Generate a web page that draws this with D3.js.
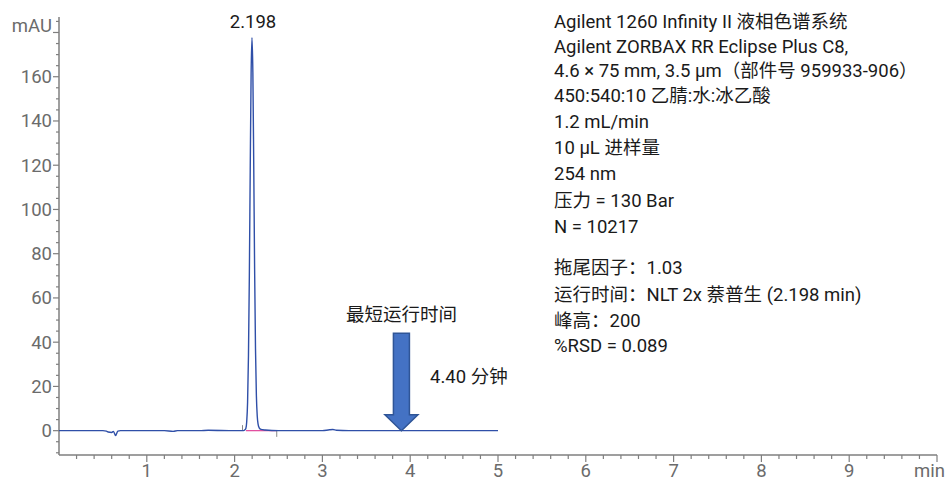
<!DOCTYPE html>
<html>
<head>
<meta charset="utf-8">
<script src="https://cdn.jsdelivr.net/npm/d3@7"></script>
<style>
  body { margin: 0; background: #fff; }
  text { font-family: Roboto, "Noto Sans CJK SC", sans-serif; }
</style>
</head>
<body>
<div id="chart"></div>
<script>
// chromatogram trace (min, mAU)
var times = [0, 0.5, 0.54, 0.56, 0.6, 0.62, 0.645, 0.67, 0.7, 1.2, 1.3, 1.35, 1.6, 1.7, 2.0, 2.1,
  2.118, 2.128, 2.138, 2.148, 2.158, 2.168, 2.178, 2.188, 2.198, 2.208, 2.218, 2.228, 2.238, 2.248,
  2.258, 2.268, 2.28, 2.3, 2.35, 2.5, 3.0, 3.08, 3.12, 3.16, 3.3, 5.0];
var mAU = [0, 0, -0.2, -0.6, -0.8, -0.3, -2.2, -0.2, 0, 0, -0.3, 0, 0, 0.2, 0, 0,
  0.4, 1, 4, 13, 34, 70, 118, 161, 177.6, 162, 120, 73, 37, 16,
  6.5, 2.8, 1.3, 0.6, 0.3, 0, 0, 0.4, 0.5, 0.2, 0, 0];

var xTicks = [1, 2, 3, 4, 5, 6, 7, 8, 9];
var yTicks = [0, 20, 40, 60, 80, 100, 120, 140, 160];

var peakTime = 2.198, peakLabel = "2.198";
var integStart = 2.13, integEnd = 2.48;
var arrowTime = 3.9, arrowTop = 44;

var infoLines = [
  "Agilent 1260 Infinity II 液相色谱系统",
  "Agilent ZORBAX RR Eclipse Plus C8,",
  "4.6 × 75 mm, 3.5 µm（部件号 959933-906）",
  "450:540:10 乙腈:水:冰乙酸",
  "1.2 mL/min",
  "10 µL 进样量",
  "254 nm",
  "压力 = 130 Bar",
  "N = 10217",
  "拖尾因子：1.03",
  "运行时间：NLT 2x 萘普生 (2.198 min)",
  "峰高：200",
  "%RSD = 0.089"
];

var width = 947, height = 481;
var fs = "18.5px";
var svg = d3.select("#chart").append("svg")
  .attr("width", width).attr("height", height);

var x = d3.scaleLinear().domain([0, 10]).range([59, 937]);
var y = d3.scaleLinear().domain([-11, 187]).range([455, 17]);

var axisColor = "#7f7f7f", labelColor = "#6b6b6b";

// x axis
var xAxis = svg.append("g").attr("transform", "translate(0,455)");
xAxis.append("line").attr("x1", x(0)).attr("x2", x(10))
  .attr("stroke", axisColor).attr("stroke-width", 1.5);
xAxis.selectAll(".minor").data(d3.range(1, 51).map(function(i) { return i / 5; }))
  .enter().append("line")
  .attr("x1", function(d) { return x(d); }).attr("x2", function(d) { return x(d); })
  .attr("y1", 0).attr("y2", function(d) { return Math.abs(d - Math.round(d)) < 1e-6 ? 7 : 4; })
  .attr("stroke", axisColor).attr("stroke-width", 1.2);
xAxis.selectAll(".lbl").data(xTicks).enter().append("text")
  .attr("x", function(d) { return x(d); }).attr("y", 21.5)
  .attr("text-anchor", "middle").attr("font-size", fs).attr("fill", labelColor)
  .text(function(d) { return d; });
xAxis.append("text").attr("x", 945).attr("y", 21.5).attr("text-anchor", "end")
  .attr("font-size", fs).attr("fill", labelColor).text("min");

// y axis
var yAxis = svg.append("g").attr("transform", "translate(59,0)");
yAxis.append("line").attr("y1", y(-11)).attr("y2", y(187))
  .attr("stroke", axisColor).attr("stroke-width", 1.5);
yAxis.selectAll(".minor").data(d3.range(-10, 186, 5)).enter().append("line")
  .attr("y1", function(d) { return y(d); }).attr("y2", function(d) { return y(d); })
  .attr("x1", 0).attr("x2", function(d) { return d % 20 === 0 ? -6 : -3; })
  .attr("stroke", axisColor).attr("stroke-width", 1.2);
yAxis.selectAll(".lbl").data(yTicks).enter().append("text")
  .attr("x", -7).attr("y", function(d) { return y(d); }).attr("dy", "0.35em")
  .attr("text-anchor", "end").attr("font-size", fs).attr("fill", labelColor)
  .text(function(d) { return d; });
yAxis.append("text").attr("x", -7).attr("y", 31.5)
  .attr("text-anchor", "end").attr("font-size", fs).attr("fill", labelColor).text("mAU");

// integration baseline and markers
svg.append("line").attr("x1", x(integStart)).attr("x2", x(integEnd))
  .attr("y1", y(0)).attr("y2", y(0)).attr("stroke", "#e0449a").attr("stroke-width", 1.2);
svg.append("line").attr("x1", x(2.09)).attr("x2", x(2.09))
  .attr("y1", y(0)).attr("y2", y(2.5)).attr("stroke", "#888").attr("stroke-width", 1);
svg.append("line").attr("x1", x(integEnd)).attr("x2", x(integEnd))
  .attr("y1", y(0)).attr("y2", y(-2.8)).attr("stroke", "#888").attr("stroke-width", 1);

// trace
var line = d3.line()
  .x(function(d, i) { return x(times[i]); })
  .y(function(d) { return y(d); })
  .curve(d3.curveMonotoneX);
svg.append("path").datum(mAU)
  .attr("d", line).attr("fill", "none")
  .attr("stroke", "#2f4fa8").attr("stroke-width", 1.4);

svg.append("text").attr("x", x(peakTime) + 1).attr("y", 27.5)
  .attr("text-anchor", "middle").attr("font-size", fs).attr("fill", "#1a1a1a")
  .text(peakLabel);

// arrow for minimum run time
var ax = x(arrowTime), ty = y(0), topY = y(arrowTop);
var arrow = [[ax - 8, topY], [ax + 8, topY], [ax + 8, ty - 16], [ax + 16.5, ty - 16],
  [ax, ty], [ax - 16.5, ty - 16], [ax - 8, ty - 16]];
svg.append("path").attr("d", "M" + arrow.join("L") + "Z")
  .attr("fill", "#4472c4").attr("stroke", "#2f5597").attr("stroke-width", 1.5);
svg.append("text").attr("x", ax).attr("y", 321).attr("text-anchor", "middle")
  .attr("font-size", fs).attr("fill", "#1a1a1a").text("最短运行时间");
svg.append("text").attr("x", 430).attr("y", 383)
  .attr("font-size", fs).attr("fill", "#1a1a1a").text("4.40 分钟");

// method info
var lineY = [27.5, 53, 77, 102, 127.5, 153.5, 180, 206.5, 232.5, 273.5, 300.5, 326.5, 351.5];
svg.selectAll(".info").data(infoLines).enter().append("text")
  .attr("x", 554).attr("y", function(d, i) { return lineY[i]; })
  .attr("font-size", fs).attr("fill", "#1a1a1a")
  .text(function(d) { return d; });
</script>
</body>
</html>
